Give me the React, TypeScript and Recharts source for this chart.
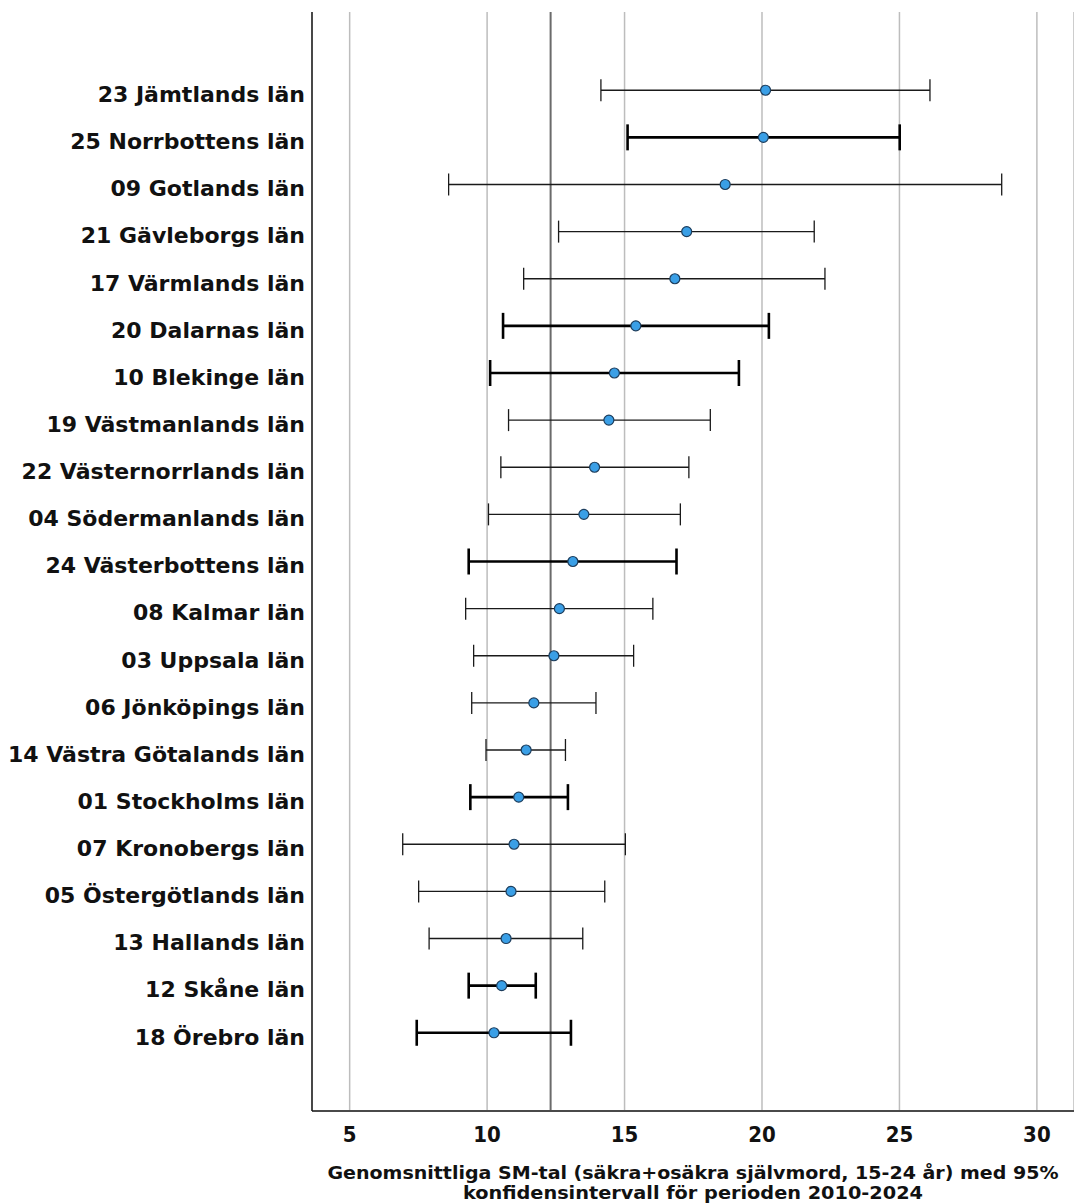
import React from 'react';
import { ScatterChart, Scatter, XAxis, YAxis, ZAxis, CartesianGrid, ErrorBar, ReferenceLine } from 'recharts';

const counties = [
  '23 Jämtlands län',
  '25 Norrbottens län',
  '09 Gotlands län',
  '21 Gävleborgs län',
  '17 Värmlands län',
  '20 Dalarnas län',
  '10 Blekinge län',
  '19 Västmanlands län',
  '22 Västernorrlands län',
  '04 Södermanlands län',
  '24 Västerbottens län',
  '08 Kalmar län',
  '03 Uppsala län',
  '06 Jönköpings län',
  '14 Västra Götalands län',
  '01 Stockholms län',
  '07 Kronobergs län',
  '05 Östergötlands län',
  '13 Hallands län',
  '12 Skåne län',
  '18 Örebro län',
];

const means = [20.13, 20.05, 18.66, 17.26, 16.83, 15.41, 14.63, 14.43, 13.91, 13.52, 13.12, 12.63, 12.43, 11.70, 11.42, 11.15, 10.98, 10.87, 10.69, 10.53, 10.25];
const lows = [14.14, 15.11, 8.60, 12.60, 11.33, 10.58, 10.11, 10.78, 10.50, 10.05, 9.33, 9.22, 9.51, 9.44, 9.96, 9.39, 6.93, 7.51, 7.89, 9.33, 7.44];
const highs = [26.11, 25.01, 28.72, 21.90, 22.29, 20.25, 19.16, 18.12, 17.34, 17.03, 16.89, 16.03, 15.33, 13.96, 12.85, 12.94, 15.03, 14.28, 13.48, 11.77, 13.05];
const thickRows = [false, true, false, false, false, true, true, false, false, false, true, false, false, false, false, true, false, false, false, true, true];

const xTicks = [5, 10, 15, 20, 25, 30];
const overallMean = 12.31;
const xTitle1 = 'Genomsnittliga SM-tal (säkra+osäkra självmord, 15-24 år) med 95%';
const xTitle2 = 'konfidensintervall för perioden 2010-2024';

const rows = counties.map((name, i) => ({
  idx: i,
  name,
  mean: means[i],
  err: [means[i] - lows[i], highs[i] - means[i]],
  thick: thickRows[i],
}));
const thinData = rows.filter((r) => !r.thick);
const thickData = rows.filter((r) => r.thick);
const yTicks = counties.map((_, i) => i);

const labelFont = "'DejaVu Sans', sans-serif";
const condFont = "'DejaVu Sans Condensed', 'DejaVu Sans', sans-serif";

const Dot = (props: any) => (
  <circle cx={props.cx} cy={props.cy} r={5} fill="#3a9fe6" stroke="#1d3d5c" strokeWidth={1.2} />
);

const YTick = (props: any) => {
  const { x, y, payload } = props;
  return (
    <text x={x} y={y + 4} dy="0.355em" textAnchor="end" fontFamily={labelFont} fontWeight="bold" fontSize={22} fill="#111">
      {counties[payload.value] ?? ''}
    </text>
  );
};

const TitleLabel = (props: any) => {
  const vb = props.viewBox || {};
  const cx = vb.x + vb.width / 2;
  return (
    <g>
      <text x={cx} y={vb.y + 68} textAnchor="middle" fontFamily={condFont} fontWeight="bold" fontSize={17} fill="#111" textLength={731} lengthAdjust="spacingAndGlyphs">
        {xTitle1}
      </text>
      <text x={cx} y={vb.y + 88} textAnchor="middle" fontFamily={condFont} fontWeight="bold" fontSize={17} fill="#111" textLength={460} lengthAdjust="spacingAndGlyphs">
        {xTitle2}
      </text>
    </g>
  );
};

export default function App() {
  return (
    <div style={{ position: 'absolute', left: 0, top: 0, background: '#fff' }}>
      <ScatterChart width={1074} height={1204} margin={{ top: 12, right: 0, bottom: 0, left: 0 }}>
        <CartesianGrid horizontal={false} vertical={true} stroke="#bdbdbd" strokeWidth={1.5} />
        <XAxis
          type="number"
          dataKey="mean"
          domain={[3.63, 31.35]}
          ticks={xTicks}
          allowDataOverflow
          height={93}
          tickSize={0}
          tickMargin={15}
          tickLine={false}
          axisLine={{ stroke: '#4a4a4a', strokeWidth: 1.8 }}
          tick={{ fontFamily: condFont, fontWeight: 'bold', fontSize: 22, fill: '#111' }}
          label={{ content: TitleLabel }}
        />
        <YAxis
          type="number"
          dataKey="idx"
          domain={[-1.66, 21.66]}
          reversed
          ticks={yTicks}
          interval={0}
          allowDataOverflow
          width={312}
          tickSize={0}
          tickMargin={7}
          tickLine={false}
          axisLine={{ stroke: '#111', strokeWidth: 1.4 }}
          tick={YTick}
        />
        <ZAxis range={[80, 80]} />
        <ReferenceLine x={overallMean} stroke="#6b6b6b" strokeWidth={2} />
        <Scatter data={thinData} dataKey="mean" shape={Dot} isAnimationActive={false}>
          <ErrorBar dataKey="err" direction="x" width={11} stroke="#1a1a1a" strokeWidth={1.3} isAnimationActive={false} />
        </Scatter>
        <Scatter data={thickData} dataKey="mean" shape={Dot} isAnimationActive={false}>
          <ErrorBar dataKey="err" direction="x" width={13} stroke="#000" strokeWidth={2.6} isAnimationActive={false} />
        </Scatter>
      </ScatterChart>
    </div>
  );
}
